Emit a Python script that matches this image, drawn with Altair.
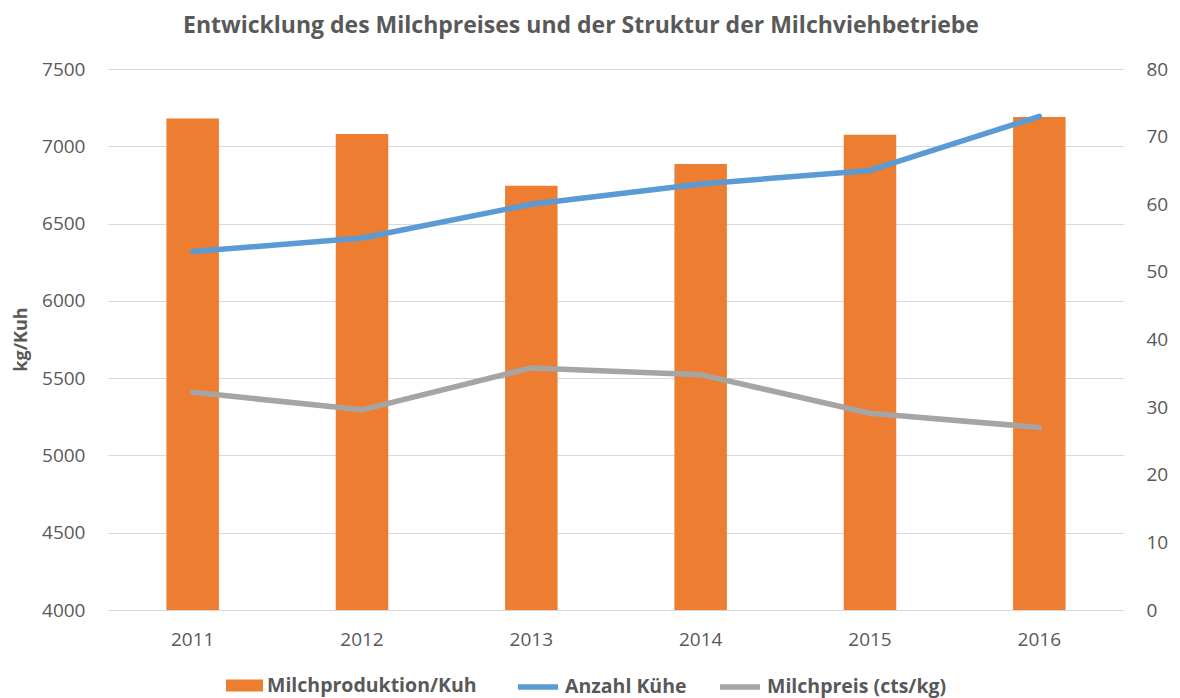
import altair as alt
import pandas as pd

years = ["2011", "2012", "2013", "2014", "2015", "2016"]
production = [7180, 7080, 6745, 6885, 7075, 7190]
cows = [53, 55, 60, 63, 65, 73]
price = [32.2, 29.6, 35.8, 34.8, 29.1, 27.0]

df = pd.DataFrame({"year": years, "production": production, "cows": cows, "price": price})

FONT = "Open Sans"
GREY = "#595959"
ORANGE = "#ED7D31"
BLUE = "#5B9BD5"
LGREY = "#A5A5A5"

xenc = alt.X("year:N", sort=years, title=None,
             scale=alt.Scale(paddingInner=0.69, paddingOuter=0.345),
             axis=alt.Axis(labelAngle=0, labelPadding=20, ticks=False, domain=False, grid=False))

legend_common = dict(orient="none", title=None, labelFont=FONT, labelFontSize=19.5,
                     labelFontWeight="bold", labelColor=GREY, labelLimit=500, padding=0,
                     labelOffset=4)

bars = alt.Chart(df).transform_calculate(series="'Milchproduktion/Kuh'").mark_bar(color=ORANGE).encode(
    x=xenc,
    y=alt.Y("production:Q", title="kg/Kuh",
            scale=alt.Scale(domain=[4000, 7500], zero=False, nice=False),
            axis=alt.Axis(orient="left", values=[4000, 4500, 5000, 5500, 6000, 6500, 7000, 7500],
                          format="d", labelPadding=23, ticks=False, domain=False, grid=True,
                          titleX=-78, titleY=270, titleAngle=-90, titleBaseline="bottom")),
    y2=alt.datum(4000),
    color=alt.Color("series:N", scale=alt.Scale(domain=["Milchproduktion/Kuh"], range=[ORANGE]),
                    legend=alt.Legend(symbolType="M-1,-0.33H1V0.33H-1Z", symbolSize=1369,
                                      symbolStrokeWidth=0, legendX=118, legendY=598, **legend_common)),
)

blue = alt.Chart(df).transform_calculate(series="'Anzahl Kühe'").mark_line(
    strokeWidth=5.5, strokeCap="round", strokeJoin="round").encode(
    x=xenc,
    y=alt.Y("cows:Q", title=None, scale=alt.Scale(domain=[0, 80], nice=False),
            axis=alt.Axis(orient="right", values=[0, 10, 20, 30, 40, 50, 60, 70, 80],
                          format="d", labelPadding=22, ticks=False, domain=False, grid=False)),
    color=alt.Color("series:N", scale=alt.Scale(domain=["Anzahl Kühe"], range=[BLUE]),
                    legend=alt.Legend(symbolType="stroke", symbolSize=1600, symbolStrokeWidth=5.5,
                                      legendX=407, legendY=595, **legend_common)),
)

grey = alt.Chart(df).transform_calculate(series="'Milchpreis (cts/kg)'").mark_line(
    strokeWidth=5.5, strokeCap="round", strokeJoin="round").encode(
    x=xenc,
    y=alt.Y("price:Q", title=None, scale=alt.Scale(domain=[0, 80], nice=False), axis=None),
    color=alt.Color("series:N", scale=alt.Scale(domain=["Milchpreis (cts/kg)"], range=[LGREY]),
                    legend=alt.Legend(symbolType="stroke", symbolSize=1600, symbolStrokeWidth=5.5,
                                      legendX=609, legendY=595, **legend_common)),
)

chart = alt.layer(bars, blue, grey).resolve_scale(y="independent", color="independent").properties(
    width=1016, height=541,
    title=alt.TitleParams("Entwicklung des Milchpreises und der Struktur der Milchviehbetriebe",
                          font=FONT, fontSize=23, fontWeight="bold", color=GREY,
                          anchor="middle", dx=-35, offset=22),
    autosize=alt.AutoSizeParams(type="none"),
    padding={"left": 108, "top": 69, "right": 56, "bottom": 88},
    background="white",
).configure_view(stroke=None).configure_axis(
    labelFont=FONT, labelFontSize=19, labelColor=GREY,
    titleFont=FONT, titleFontSize=18, titleFontWeight="bold", titleColor=GREY,
    gridColor="#D9D9D9", gridWidth=1,
)

chart.save("out.html", embed_options={"renderer": "svg", "actions": False})
